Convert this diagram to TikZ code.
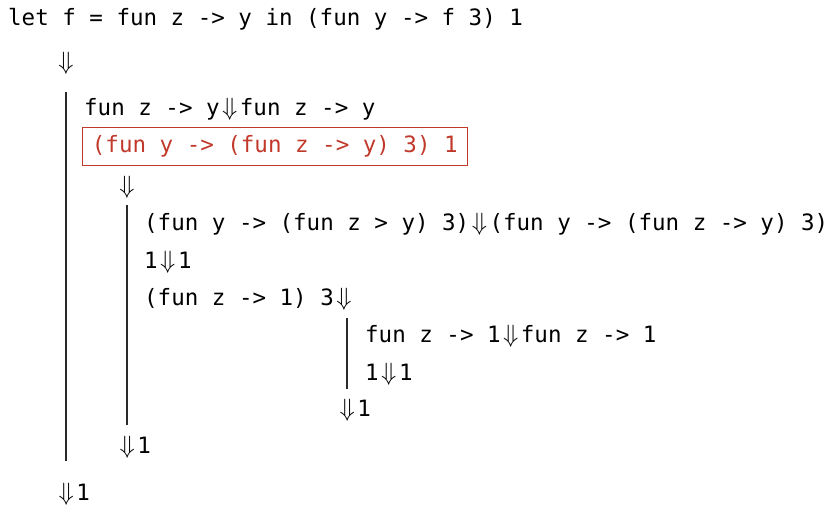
\RequirePackage{fix-cm}
\documentclass[tikz,border=0pt]{standalone}
\usepackage{fontspec}
\setmonofont{DejaVu Sans Mono}
\usetikzlibrary{positioning}
\definecolor{cred}{HTML}{C0392B}
\definecolor{cbar}{HTML}{2A2A2A}
\newcommand{\dnarr}{{\fontsize{25}{30}\selectfont${\Downarrow}$}}
\newcommand{\evto}{\kern2.5pt\dnarr\kern2.5pt}
\tikzset{
  every picture/.style={font=\ttfamily\fontsize{22.5}{27}\selectfont},
  code/.style={anchor=base west, inner sep=0pt},
  goal/.style={draw=cred, text=cred, line width=0.9pt, inner xsep=9.5pt, minimum height=38pt},
  rule/.style={draw=cbar, line width=1.2pt},
}

\begin{document}
\begin{tikzpicture}[x=1pt, y=-1pt,
  arr/.style={anchor=base, inner sep=0pt}]
  \useasboundingbox (0,0) rectangle (833,507);
  % the program and its step
  \node[code] (prog) at (8,25) {let f = fun z -> y in (fun y -> f 3) 1};
  \node[arr] (arr0) at (66,69) {\dnarr};
  % evaluating the let
  \node[code] (fdef) at (84,115) {fun z -> y\evto fun z -> y};
  \node[goal, anchor=west] (app) at (82,146) {(fun y -> (fun z -> y) 3) 1};
  \node[arr] (arr1) at (127,193) {\dnarr};
  % evaluating the application
  \node[code] (fun) at (144,230) {(fun y -> (fun z > y) 3)\evto(fun y -> (fun z -> y) 3)};
  \node[code] (arg) at (144,268) {1\evto 1};
  \node[code] (body) at (144,305) {(fun z -> 1) 3\evto};
  % inner application
  \node[code] (fz) at (365,342) {fun z -> 1\evto fun z -> 1};
  \node[code] (one) at (365,380) {1\evto 1};
  \node[code] (res2) at (337,416) {\evto 1};
  \node[code] (res1) at (117,453) {\evto 1};
  \node[code] (res0) at (56,500) {\evto 1};
  % bars of the derivation
  \coordinate (b1s) at (66,92);
  \coordinate (b1e) at (66,461);
  \coordinate (b2s) at (127,205);
  \coordinate (b2e) at (127,425);
  \coordinate (b3s) at (347,318);
  \coordinate (b3e) at (347,389);
  \foreach \a/\b in {b1s/b1e, b2s/b2e, b3s/b3e} \draw[rule] (\a) -- (\b);
\end{tikzpicture}
\end{document}
